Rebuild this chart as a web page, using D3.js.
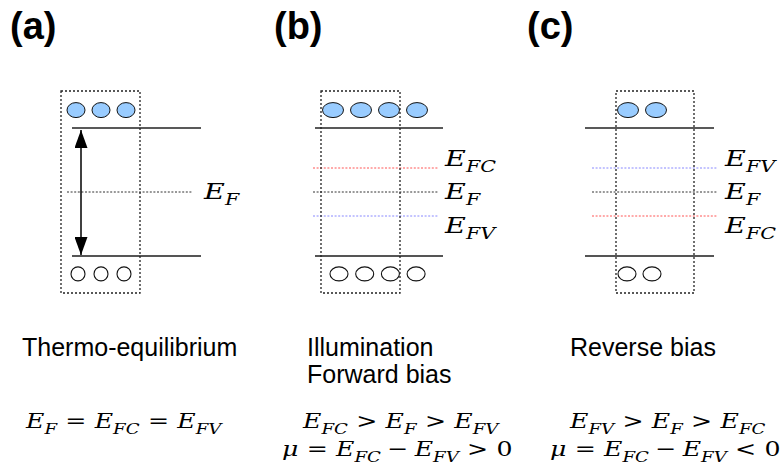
<!DOCTYPE html>
<html lang="en">
  <head>
    <meta charset="UTF-8" />
    <title>Quasi Fermi levels</title>
    <script src="https://d3js.org/d3.v7.min.js"></script>
    <style>
      body { margin: 0; background: #fff; }
    </style>
  </head>
  <body>
    <div id="chart"></div>
    <script>
      // panel data
      var panelTitles = ["(a)", "(b)", "(c)"];
      var electronCounts = [3, 4, 2];
      var holeCounts = [3, 4, 2];
      var bandEnergies = [1, 0]; // conduction, valence
      var electronEnergy = 1.14;
      var holeEnergy = -0.14;
      var levelsA = [{ name: "E_{F}", energy: 0.5, kind: "F" }];
      var levelsB = [
        { name: "E_{FC}", energy: 0.6875, kind: "C" },
        { name: "E_{F}", energy: 0.5, kind: "F" },
        { name: "E_{FV}", energy: 0.3125, kind: "V" },
      ];
      var levelsC = [
        { name: "E_{FV}", energy: 0.6875, kind: "V" },
        { name: "E_{F}", energy: 0.5, kind: "F" },
        { name: "E_{FC}", energy: 0.3125, kind: "C" },
      ];
      var captions = [["Thermo-equilibrium"], ["Illumination", "Forward bias"], ["Reverse bias"]];
      var formulas = [
        ["E_{F} = E_{FC} = E_{FV}"],
        ["E_{FC} > E_{F} > E_{FV}", "μ = E_{FC} − E_{FV} > 0"],
        ["E_{FV} > E_{F} > E_{FC}", "μ = E_{FC} − E_{FV} < 0"],
      ];

      var width = 783, height = 474;
      var svg = d3.select("#chart").append("svg").attr("width", width).attr("height", height);

      var y = d3.scaleLinear().domain([0, 1]).range([256, 128]);
      var levelColor = { F: "#333", C: "#ff5555", V: "#8888ff" };

      // layout per panel
      var layout = [
        { titleX: 10, box: [61, 140], band: [72, 201], level: [67, 192], labelX: 204, eX: 76, eStep: 25, hX: 78, hStep: 23, capX: 22, fX: [26], levels: levelsA, labelDy: [7] },
        { titleX: 274, box: [321, 400], band: [315, 443], level: [313, 438], labelX: 445, eX: 333, eStep: 28, hX: 339, hStep: 25.7, capX: 307, fX: [303, 282], levels: levelsB, labelDy: [-2, 7, 17] },
        { titleX: 527, box: [616, 694], band: [585, 714], level: [592, 717], labelX: 725, eX: 628, eStep: 28, hX: 627, hStep: 25, capX: 570, fX: [570, 550], levels: levelsC, labelDy: [-2, 7, 17] },
      ];

      var serif = "'DejaVu Serif', 'Liberation Serif', serif";
      var relations = ["=", ">", "<"];

      // math text with subscripts, stretched a little to look like the TeX output
      function mathText(g, str, x, yb, size, sx) {
        var t = g.append("text").attr("transform", "translate(" + x + "," + yb + ") scale(" + sx + ",1)")
          .style("font-family", serif).style("font-size", size + "px");
        var sub = size * 0.72, shift = size * 0.28;
        var pendingDy = 0, prevRel = false;
        str.split(" ").forEach(function (p, i) {
          var m = p.match(/^([A-Za-z])_\{(\w+)\}$/);
          var isRel = relations.indexOf(p) >= 0;
          var lead = i === 0 ? "" : (isRel || prevRel ? "\u2004" : "\u2005");
          if (m) {
            t.append("tspan").attr("dy", pendingDy).style("font-size", size + "px")
              .style("font-style", "italic").text(lead + m[1]);
            t.append("tspan").attr("dy", shift).style("font-size", sub + "px")
              .style("font-style", "italic").text(m[2]);
            pendingDy = -shift;
          } else {
            t.append("tspan").attr("dy", pendingDy).style("font-size", size + "px")
              .style("font-style", p === "μ" ? "italic" : "normal").text(lead + p);
            pendingDy = 0;
          }
          prevRel = isRel;
        });
        return t;
      }

      panelTitles.forEach(function (title, i) {
        var L = layout[i];
        var g = svg.append("g");

        g.append("text").attr("x", L.titleX).attr("y", 39)
          .style("font-family", "'Liberation Sans', Arial, sans-serif")
          .style("font-weight", "bold").style("font-size", "38px").text(title);

        // level lines
        L.levels.forEach(function (lv, j) {
          g.append("line").attr("x1", L.level[0]).attr("x2", L.level[1])
            .attr("y1", y(lv.energy)).attr("y2", y(lv.energy))
            .attr("stroke", levelColor[lv.kind]).attr("stroke-width", 1)
            .attr("stroke-dasharray", "2,1.6");
          mathText(g, lv.name, L.labelX, y(lv.energy) + L.labelDy[j], 22, 1.3);
        });

        // bands
        bandEnergies.forEach(function (e, j) {
          g.append("line").attr("x1", L.band[0]).attr("x2", L.band[1])
            .attr("y1", y(e)).attr("y2", y(e))
            .attr("stroke", j === 0 ? "#222" : "#555").attr("stroke-width", j === 0 ? 1.4 : 2.2);
        });

        // dotted box
        g.append("rect").attr("x", L.box[0]).attr("y", 91)
          .attr("width", L.box[1] - L.box[0]).attr("height", 202)
          .attr("fill", "none").attr("stroke", "#222").attr("stroke-width", 1.3)
          .attr("stroke-dasharray", "2,2");

        // electrons
        g.selectAll(".e").data(d3.range(electronCounts[i])).join("ellipse")
          .attr("cx", function (d) { return L.eX + d * L.eStep; })
          .attr("cy", y(electronEnergy))
          .attr("rx", i === 0 ? 9 : 10.5).attr("ry", 7.5)
          .attr("fill", "#99ccff").attr("stroke", "#111").attr("stroke-width", 1);

        // holes
        g.selectAll(".h").data(d3.range(holeCounts[i])).join("ellipse")
          .attr("cx", function (d) { return L.hX + d * L.hStep; })
          .attr("cy", y(holeEnergy))
          .attr("rx", i === 0 ? 7 : 9).attr("ry", 7)
          .attr("fill", "#fff").attr("stroke", "#111").attr("stroke-width", 1.1);

        // captions
        captions[i].forEach(function (c, j) {
          g.append("text").attr("x", L.capX).attr("y", 356 + j * 27)
            .style("font-family", "'Liberation Sans', Arial, sans-serif")
            .style("font-size", "25px").text(c);
        });

        formulas[i].forEach(function (f, j) {
          mathText(g, f, L.fX[j], 428 + j * 28, 21, 1.2);
        });
      });

      // gap arrow in panel (a)
      var defs = svg.append("defs");
      defs.append("marker").attr("id", "head").attr("viewBox", "0 0 18 13")
        .attr("refX", 18).attr("refY", 6.5).attr("markerWidth", 18).attr("markerHeight", 13)
        .attr("markerUnits", "userSpaceOnUse").attr("orient", "auto-start-reverse")
        .append("path").attr("d", "M0,0L18,6.5L0,13Z").attr("fill", "#000");
      svg.append("line").attr("x1", 81).attr("x2", 81)
        .attr("y1", y(bandEnergies[0]) + 2).attr("y2", y(bandEnergies[1]) - 1)
        .attr("stroke", "#000").attr("stroke-width", 1.5)
        .attr("marker-start", "url(#head)").attr("marker-end", "url(#head)");
    </script>
  </body>
</html>
